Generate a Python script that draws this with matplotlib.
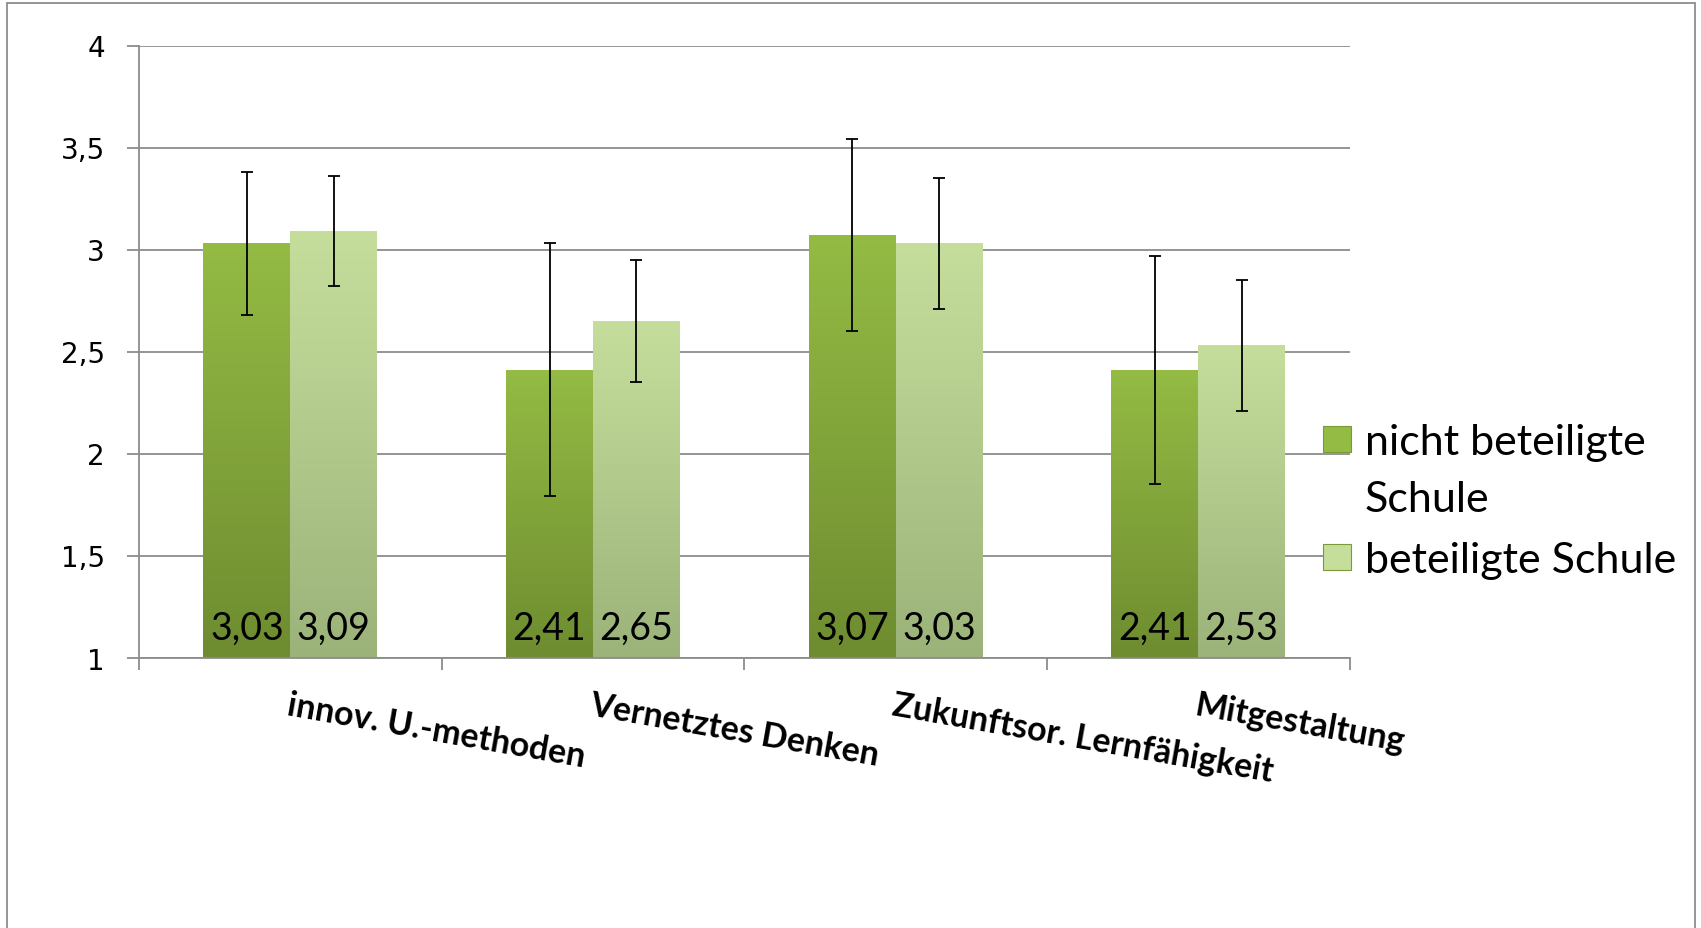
import matplotlib
matplotlib.use('Agg')
import matplotlib.pyplot as plt
import numpy as np
from matplotlib.patches import Rectangle
from matplotlib.colors import LinearSegmentedColormap
from matplotlib.transforms import blended_transform_factory

# data
categories = ['innov. U.-methoden', 'Vernetztes Denken',
              'Zukunftsor. Lernfähigkeit', 'Mitgestaltung']
series_names = ['nicht beteiligte\nSchule', 'beteiligte Schule']
nicht_beteiligt = [3.03, 2.41, 3.07, 2.41]
beteiligt = [3.09, 2.65, 3.03, 2.53]
err_nicht = [0.35, 0.62, 0.47, 0.56]
err_beteiligt = [0.27, 0.30, 0.32, 0.32]
value_labels_nicht = ['3,03', '2,41', '3,07', '2,41']
value_labels_bet = ['3,09', '2,65', '3,03', '2,53']
yticks = [1, 1.5, 2, 2.5, 3, 3.5, 4]
ytick_labels = ['1', '1,5', '2', '2,5', '3', '3,5', '4']

W, H = 1701, 929
fig = plt.figure(figsize=(W / 100, H / 100), dpi=100)
ax = fig.add_axes([139 / W, 1 - 658.5 / H, 1210.5 / W, 612 / H])

grey = '#8c8c8c'
dark_cols = ('#6e8c30', '#94bb44')   # bottom, top
light_cols = ('#9bb379', '#c6de9c')

x = np.arange(len(categories))
bw = 0.287
ymin, ymax = 1, 4


def gradient_bars(bars, cols):
    cmap = LinearSegmentedColormap.from_list('g', cols)
    grad = np.linspace(0, 1, 256).reshape(-1, 1)
    for b in bars:
        x0 = b.get_x()
        x1 = x0 + b.get_width()
        top = b.get_height()
        im = ax.imshow(grad, cmap=cmap, origin='lower', aspect='auto',
                       extent=[x0, x1, ymin, top], zorder=2)
        im.set_clip_path(b)


bars1 = ax.bar(x - bw / 2, nicht_beteiligt, bw, color=dark_cols[0], zorder=2)
bars2 = ax.bar(x + bw / 2, beteiligt, bw, color=light_cols[0], zorder=2)
gradient_bars(bars1, dark_cols)
gradient_bars(bars2, light_cols)

ax.errorbar(x - bw / 2, nicht_beteiligt, yerr=err_nicht, fmt='none',
            ecolor='black', elinewidth=1.3, capsize=4.5, capthick=1.3, zorder=5)
ax.errorbar(x + bw / 2, beteiligt, yerr=err_beteiligt, fmt='none',
            ecolor='black', elinewidth=1.3, capsize=4.5, capthick=1.3, zorder=5)

for xi, lab in zip(x - bw / 2, value_labels_nicht):
    ax.text(xi, 1.09, lab, ha='center', va='baseline', fontsize=27,
            family='Lato', zorder=6)
for xi, lab in zip(x + bw / 2, value_labels_bet):
    ax.text(xi, 1.09, lab, ha='center', va='baseline', fontsize=27,
            family='Lato', zorder=6)

ax.set_xlim(-0.5, len(categories) - 0.5)
ax.set_ylim(ymin, ymax)

ax.set_yticks(yticks)
ax.set_yticklabels(ytick_labels, fontsize=20, family='DejaVu Sans')
ax.tick_params(axis='y', length=8.5, width=1.3, color=grey, pad=16)
ax.yaxis.grid(True, color=grey, lw=1.3)
ax.set_axisbelow(True)

ax.set_xticks([])
ax.set_xticks(np.arange(-0.5, len(categories)), minor=True)
ax.tick_params(axis='x', which='minor', length=8.5, width=1.3, color=grey)

for s in ['top', 'right']:
    ax.spines[s].set_visible(False)
for s in ['left', 'bottom']:
    ax.spines[s].set_color(grey)
    ax.spines[s].set_linewidth(1.3)

trans = blended_transform_factory(ax.transData, ax.transAxes)
for xi, cat in zip(x, categories):
    ax.text(xi, -0.05, cat, transform=trans, ha='left', va='top',
            rotation=-10, rotation_mode='anchor', fontsize=24.5,
            family='Lato', fontweight='bold')

# legend, drawn like the Excel one
leg_x = 1323 / W
sq_w, sq_h = 28 / W, 26 / H
leg_colors = [dark_cols[1], light_cols[1]]
first_baselines = [455, 573]
line_step = 57
for name, col, base in zip(series_names, leg_colors, first_baselines):
    fig.patches.append(Rectangle((leg_x, 1 - (base - 2) / H), sq_w, sq_h,
                                 transform=fig.transFigure, fc=col,
                                 ec='#7a9a3a', lw=0.8))
    for k, line in enumerate(name.split('\n')):
        fig.text(1365 / W, 1 - (base + k * line_step) / H, line,
                 ha='left', va='baseline', fontsize=31, family='Lato')

# outer chart border
fig.patches.append(Rectangle((7 / W, -0.01), (1695 - 7) / W, 1 - 4 / H + 0.01,
                             transform=fig.transFigure, fill=False,
                             ec=grey, lw=1.3))

fig.savefig('out.png', dpi=100)
